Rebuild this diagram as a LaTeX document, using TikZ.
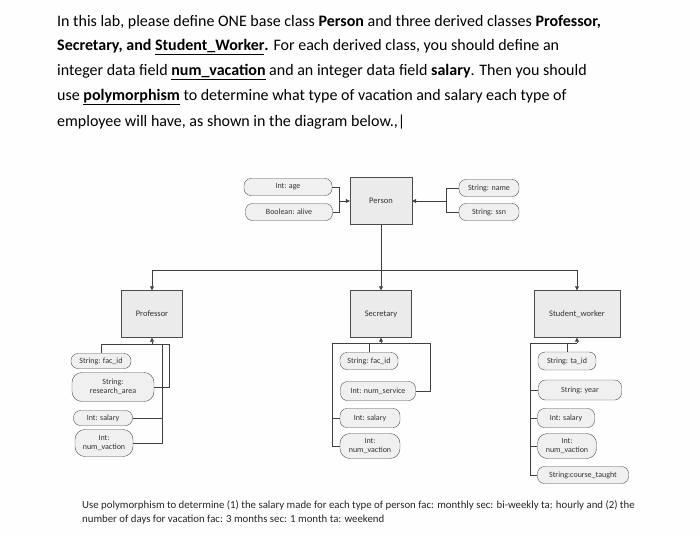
\documentclass[tikz,border=0pt]{standalone}
\usepackage{fontspec}
\setmainfont{Carlito}
\usetikzlibrary{arrows.meta}
\begin{document}
\begin{tikzpicture}[x=1pt,y=-1pt,
  att/.style={draw=black!70,fill=black!6,rounded corners=7pt,minimum height=17pt,font=\fontsize{8}{9}\selectfont,inner sep=1.5pt,align=center,text=black!80},
  cls/.style={draw=black!70,fill=black!8,minimum width=61pt,minimum height=47pt,font=\fontsize{8.5}{9}\selectfont,text=black!80},
  ln/.style={draw=black!75,line width=0.6pt},
  ar/.style={ln,-{Triangle[length=4pt,width=4pt]}},
  tl/.style={anchor=west,font=\fontsize{16}{18}\selectfont,inner sep=0pt}]
\fill[white!95!black!6] (0,0) rectangle (700,538);
\useasboundingbox (0,0) rectangle (700,538);
\node[tl] (t1) at (57,22) {In this lab, please define ONE base class \textbf{Person} and three derived classes \textbf{Professor,}};
\node[tl] (t2) at (57,47) {\textbf{Secretary, and \underline{Student\_Worker}.} For each derived class, you should define an};
\node[tl] (t3) at (57,72) {integer data field \textbf{\underline{num\_vacation}} and an integer data field \textbf{salary}. Then you should};
\node[tl] (t4) at (57,97) {use \textbf{\underline{polymorphism}} to determine what type of vacation and salary each type of};
\node[tl] (t5) at (57,122) {employee will have, as shown in the diagram below.,|};
% Person
\node[cls,minimum width=62pt] (P) at (381,201) {Person};
\node[att,minimum width=88pt] (age) at (288,187) {Int: age};
\node[att,minimum width=87pt] (alive) at (289,212) {Boolean: alive};
\node[att,minimum width=60pt] (name) at (489,188) {String: name};
\node[att,minimum width=60pt] (ssn) at (489,212) {String: ssn};
\draw[ln] (age.east) -| (339,201);
\draw[ln] (alive.east) -| (339,201);
\draw[ar] (339,201) -- (P.west);
\draw[ln] (name.west) -| (446,201);
\draw[ln] (ssn.west) -| (446,201);
\draw[ar] (446,201) -- (P.east);
% classes
\node[cls] (Pr) at (152,314) {Professor};
\node[cls] (Se) at (381,314) {Secretary};
\node[cls,minimum width=86pt] (St) at (577,314) {Student\_worker};
\coordinate (hub) at (381,270);
\draw[ln] (P.south) -- (hub);
\draw[ar] (hub) -| (Pr.north);
\draw[ar] (hub) -- (Se.north);
\draw[ar] (hub) -| (St.north);
% professor attrs
\node[att,minimum width=60pt,minimum height=15pt] (pf) at (101,361) {String: fac\_id};
\node[att,minimum width=82pt,minimum height=29pt,rounded corners=10pt] (pr) at (113,387) {String:\\research\_area};
\node[att,minimum width=59pt,minimum height=15pt] (ps) at (103,418) {Int: salary};
\node[att,minimum width=58pt,minimum height=27pt,rounded corners=10pt] (pv) at (104,443) {Int:\\num\_vaction};
\coordinate (pb) at (162,344);
\draw[ln] (pf.north) |- (Pr.south|-pb);
\draw[ln] (pr.east) -| (169,344) -- (Pr.south|-pb);
\draw[ln] (ps.east) -| (pb);
\draw[ln] (pv.east) -| (pb);
\draw[ar] (pb) -| (Pr.south);
% secretary attrs
\node[att,minimum width=58pt] (sf) at (369,361) {String: fac\_id};
\node[att,minimum width=75pt,minimum height=19pt] (sn) at (378,391) {Int: num\_service};
\node[att,minimum width=60pt,minimum height=19pt] (ss) at (370,418) {Int: salary};
\node[att,minimum width=60pt,minimum height=25pt,rounded corners=10pt] (sv) at (370,446) {Int:\\num\_vaction};
\coordinate (sb) at (381,343);
\draw[ln] (sv.west) -| (332,343) -- (sb);
\draw[ln] (ss.west) -| (332,343);
\draw[ln] (sf.north) |- (sb);
\draw[ln] (sn.east) -| (430,343) -- (sb);
\draw[ar] (sb) -- (Se.south);
% student attrs
\node[att,minimum width=58pt,minimum height=18pt] (tf) at (567,361) {String: ta\_id};
\node[att,minimum width=83pt,minimum height=20pt] (ty) at (580,390) {String: year};
\node[att,minimum width=57pt,minimum height=19pt] (ts) at (566,418) {Int: salary};
\node[att,minimum width=59pt,minimum height=25pt,rounded corners=10pt] (tv) at (567,446) {Int:\\num\_vaction};
\node[att,minimum width=91pt,minimum height=17pt] (tc) at (583,475) {String:course\_taught};
\coordinate (tb) at (577,343);
\draw[ln] (tc.west) -| (530,343) -- (tb);
\draw[ln] (tv.west) -| (530,343);
\draw[ln] (ts.west) -| (530,343);
\draw[ln] (ty.west) -| (530,343);
\draw[ln] (tf.north) |- (tb);
\draw[ar] (tb) -- (St.south);
% bottom text
\node[anchor=west,font=\fontsize{10.8}{12}\selectfont,inner sep=0pt,text=black!85] (b1) at (82,505) {Use polymorphism to determine (1) the salary made for each type of person fac: monthly sec: bi-weekly ta: hourly and (2) the};
\node[anchor=west,font=\fontsize{10.8}{12}\selectfont,inner sep=0pt,text=black!85] (b2) at (82,520) {number of days for vacation fac: 3 months sec: 1 month ta: weekend};
\end{tikzpicture}
\end{document}
